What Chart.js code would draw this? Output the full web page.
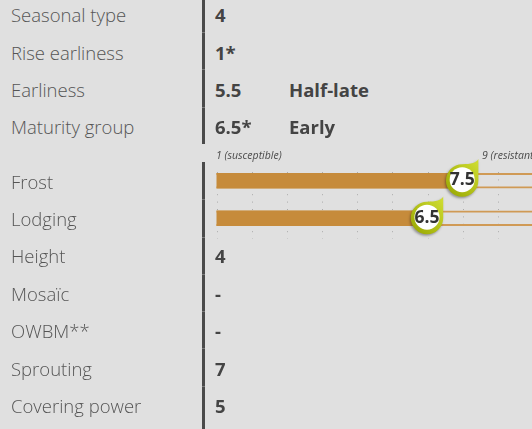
<!DOCTYPE html>
<html>
<head>
<meta charset="utf-8">
<script src="https://cdn.jsdelivr.net/npm/chart.js@4.4.1/dist/chart.umd.min.js"></script>
<style>
  body { margin: 0; width: 532px; height: 429px; overflow: hidden; background: #e0e0e0; position: relative; font-family: "Open Sans", sans-serif; }
  .lbl { position: absolute; left: 11px; font-size: 18.5px; font-weight: 300; color: #555; line-height: 24px; white-space: nowrap; z-index: 2; }
  .val { position: absolute; left: 215px; font-size: 18.5px; font-weight: 700; color: #444; line-height: 24px; white-space: nowrap; z-index: 2; }
  .note { position: absolute; left: 289px; font-size: 18.5px; font-weight: 700; color: #444; line-height: 24px; white-space: nowrap; z-index: 2; }
  .scaleTxt { position: absolute; top: 148px; font-size: 10.5px; font-style: italic; color: #4a4a4a; line-height: 14px; white-space: nowrap; z-index: 2; }
  .vline { position: absolute; left: 202px; width: 3px; background: #4a4a4a; z-index: 3; }
  .sep { position: absolute; left: 202px; width: 3px; height: 1px; background: #7a7a7a; z-index: 4; }
  #wrap { position: absolute; left: 0; top: 150px; width: 533px; height: 95px; z-index: 1; }
</style>
</head>
<body>
<div class="vline" style="top:0;height:144px"></div>
<div class="vline" style="top:162px;height:267px"></div>
<div class="scaleTxt" style="left:216px">1 (susceptible)</div>
<div class="scaleTxt" style="left:482px">9 (resistant)</div>
<div id="wrap"><canvas id="chart"></canvas></div>

<script>
// rows of the sheet, top to bottom
const categories = ['Seasonal type', 'Rise earliness', 'Earliness', 'Maturity group', 'Frost', 'Lodging', 'Height', 'Mosaïc', 'OWBM**', 'Sprouting', 'Covering power']
const scores = ['4', '1*', '5.5', '6.5*', '', '', '4', '-', '-', '7', '5']
const notes = ['', '', 'Half-late', 'Early', '', '', '', '', '', '', '']

// rows drawn as bars (1 = susceptible, 9 = resistant)
const barLabels = ['Frost', 'Lodging']
const barValues = [7.5, 6.5]
const gridMarks = [0.5, 1.5, 2.5, 3.5, 4.5, 5.5, 6.5, 7.5, 8.5, 9.5]
const xMin = 0.5
const xMax = 9.5

// text rows
const baselines = [22.7, 60, 97, 134.3, 189, 226.4, 263.8, 301.2, 338.6, 376, 413.4]
categories.forEach((name, i) => {
  const top = baselines[i] - 19.4
  const l = document.createElement('div')
  l.className = 'lbl'
  l.style.top = top + 'px'
  l.textContent = name
  document.body.appendChild(l)
  if (scores[i]) {
    const v = document.createElement('div')
    v.className = 'val'
    v.style.top = top + 'px'
    v.textContent = scores[i]
    document.body.appendChild(v)
  }
  if (notes[i]) {
    const n = document.createElement('div')
    n.className = 'note'
    n.style.top = top + 'px'
    n.textContent = notes[i]
    document.body.appendChild(n)
  }
})
// faint row breaks on the divider
;[32, 69, 107, 199, 237, 274, 311, 348, 386].forEach(y => {
  const s = document.createElement('div')
  s.className = 'sep'
  s.style.top = y + 'px'
  document.body.appendChild(s)
})

const dotGrid = {
  id: 'dotGrid',
  beforeDatasetsDraw(chart) {
    const { ctx, chartArea, scales: { x } } = chart
    ctx.save()
    ctx.strokeStyle = '#ababab'
    ctx.lineWidth = 1
    ctx.setLineDash([1, 6.4])
    x.ticks.forEach((t, i) => {
      const px = Math.round(x.getPixelForTick(i)) + 0.5
      ctx.beginPath()
      ctx.moveTo(px, chartArea.top + 10)
      ctx.lineTo(px, chartArea.bottom + 2)
      ctx.stroke()
    })
    ctx.restore()
  }
}

const markers = {
  id: 'markers',
  afterDatasetsDraw(chart) {
    const ctx = chart.ctx
    chart.getDatasetMeta(0).data.forEach((bar, i) => {
      const cx = bar.x - 0.5, cy = bar.y - 0.3, r = 16.2
      ctx.save()
      ctx.shadowColor = 'rgba(0,0,0,0.35)'
      ctx.shadowBlur = 2.5
      ctx.shadowOffsetX = -1
      ctx.shadowOffsetY = 1.5
      const g = ctx.createLinearGradient(cx + r, cy - r, cx - r, cy + r)
      g.addColorStop(0, '#cddb30')
      g.addColorStop(1, '#96a500')
      ctx.fillStyle = g
      ctx.beginPath()
      ctx.moveTo(cx + r, cy - r * 1.32)
      ctx.lineTo(cx + r, cy)
      ctx.arc(cx, cy, r, 0, 1.5 * Math.PI, false)
      ctx.bezierCurveTo(cx + r * 0.55, cy - r, cx + r * 0.9, cy - r * 1.1, cx + r, cy - r * 1.32)
      ctx.fill()
      ctx.restore()

      ctx.save()
      ctx.beginPath()
      ctx.arc(cx, cy - 0.8, 12.5, 0, Math.PI * 2)
      ctx.fillStyle = '#fff'
      ctx.fill()
      ctx.fillStyle = '#333'
      ctx.font = 'bold 17.5px "Open Sans"'
      ctx.textAlign = 'center'
      ctx.textBaseline = 'middle'
      ctx.fillText(String(barValues[i]), cx, cy)
      ctx.restore()
    })
  }
}

new Chart(document.getElementById('chart'), {
  type: 'bar',
  data: {
    labels: barLabels,
    datasets: [
      {
        label: 'Score',
        data: barValues,
        backgroundColor: '#c68b3b',
        barThickness: 15,
        grouped: false
      },
      {
        label: 'Scale',
        data: barLabels.map(() => xMax),
        backgroundColor: 'rgba(0,0,0,0)',
        borderColor: '#d09a55',
        borderWidth: { top: 1.5, bottom: 1.5, left: 0, right: 0 },
        borderSkipped: false,
        barThickness: 15,
        grouped: false
      }
    ]
  },
  options: {
    indexAxis: 'y',
    responsive: true,
    maintainAspectRatio: false,
    animation: false,
    layout: { padding: { left: 216.5, top: 12, right: 0, bottom: 8 } },
    scales: {
      x: {
        display: false,
        min: xMin,
        max: xMax,
        afterBuildTicks: s => { s.ticks = gridMarks.map(v => ({ value: v })) }
      },
      y: { display: false }
    },
    plugins: {
      legend: { display: false },
      tooltip: { enabled: false }
    }
  },
  plugins: [dotGrid, markers]
})
</script>
</body>
</html>
